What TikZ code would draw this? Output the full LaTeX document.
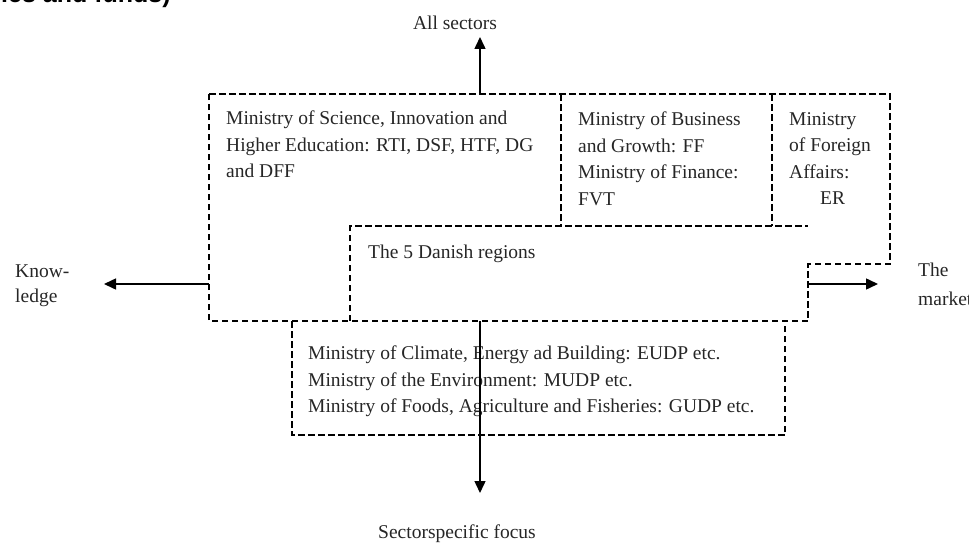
\documentclass[tikz,border=0pt]{standalone}
\usepackage{fontspec}
\setmainfont{Liberation Serif}
\newfontfamily\hsans{Liberation Sans}
\usetikzlibrary{arrows.meta}
\begin{document}
\begin{tikzpicture}[x=1pt,y=-1pt,
  box/.style={line width=2.2pt,dash pattern=on 6.5pt off 3.5pt,line cap=butt},
  arr/.style={line width=1.5pt,-{Triangle[length=12pt,width=11pt]}},
  txt/.style={inner sep=0pt,anchor=north west,align=left,text=black!85,
              font=\fontsize{19.5}{26.5}\selectfont},
  lbl/.style={inner sep=0pt,text=black!85,font=\fontsize{19.5}{24}\selectfont}]
\useasboundingbox (0,0) rectangle (969,543);

% cropped heading fragment
\node[inner sep=0pt,anchor=base west,font=\hsans\bfseries\fontsize{25}{25}\selectfont] (head) at (1,3) {ies and funds)};

% composite outline of the upper boxes
\coordinate (sciNW) at (209,94);
\coordinate (forNE) at (890,94);
\coordinate (forSE) at (890,264);
\coordinate (forSW) at (808,264);
\coordinate (regSE) at (808,321);
\coordinate (sciSW) at (209,321);
\draw[box] (sciNW) -- (forNE) -- (forSE) -- (forSW) -- (regSE) -- (sciSW) -- cycle;
% internal dividers
\coordinate (d1t) at (561,94);  \coordinate (d1b) at (561,226);
\coordinate (d2t) at (772,94);  \coordinate (d2b) at (772,226);
\draw[box] (d1t) -- (d1b);
\draw[box] (d2t) -- (d2b);
% regions box (left and top edges)
\coordinate (regSW) at (350,321);
\coordinate (regNW) at (350,226);
\coordinate (regNE) at (808,226);
\draw[box] (regSW) -- (regNW) -- (regNE);
% sector ministries box
\coordinate (secNW) at (292,321);
\coordinate (secSW) at (292,435);
\coordinate (secSE) at (785,435);
\coordinate (secNE) at (785,321);
\draw[box] (secNW) -- (secSW) -- (secSE) -- (secNE);

% box texts
\node[txt] (sci) at (226,111) {Ministry of Science, Innovation and\\Higher Education: RTI, DSF, HTF, DG\\and DFF};
\node[txt] (bus) at (578,112) {Ministry of Business\\and Growth: FF\\Ministry of Finance:\\FVT};
\node[txt] (for) at (789,112) {Ministry\\of Foreign\\Affairs:\\\hspace*{31pt}ER};
\node[txt] (reg) at (368,245) {The 5 Danish regions};
\node[txt] (sec) at (308,346) {Ministry of Climate, Energy ad Building: EUDP etc.\\Ministry of the Environment: MUDP etc.\\Ministry of Foods, Agriculture and Fisheries: GUDP etc.};

% axis labels
\node[lbl] (allsec) at (455,23) {All sectors};
\node[lbl] (sectfoc) at (457,534) {Sectorspecific focus};
\node[txt,font=\fontsize{19.5}{25}\selectfont] (know) at (15,265) {Know-\\ledge};
\node[txt,font=\fontsize{19.5}{29}\selectfont] (mkt) at (918,263) {The\\market};

% arrows
\coordinate (upS) at (480,94);   \coordinate (upT) at (480,37);
\coordinate (dnS) at (480,321);  \coordinate (dnT) at (480,493);
\coordinate (lfS) at (209,284);  \coordinate (lfT) at (104,284);
\coordinate (rtS) at (808,284);  \coordinate (rtT) at (878,284);
\draw[arr] (upS) -- (upT);
\draw[arr] (dnS) -- (dnT);
\draw[arr] (lfS) -- (lfT);
\draw[arr] (rtS) -- (rtT);
\end{tikzpicture}
\end{document}
